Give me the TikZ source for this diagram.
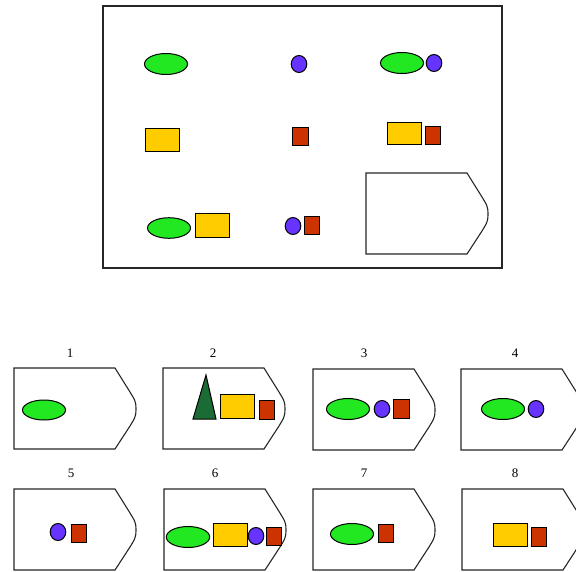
\documentclass[tikz,border=0pt]{standalone}
\usepackage{fontspec}
\setmainfont{Liberation Serif}
\definecolor{cgreen}{HTML}{22E822}
\definecolor{cpurple}{HTML}{6633FF}
\definecolor{cyellow}{HTML}{FFCC00}
\definecolor{cred}{HTML}{CC3300}
\definecolor{cdkgreen}{HTML}{1B6B35}
\tikzset{
  shp/.style={draw=black, line width=1pt},
  ell/.style={shp, fill=cgreen},
  circ/.style={shp, fill=cpurple},
  yrect/.style={shp, fill=cyellow},
  rrect/.style={shp, fill=cred},
  tri/.style={shp, fill=cdkgreen},
  frame/.style={draw=black!85, line width=1.5pt},
  tag/.style={font=\fontsize{13}{14}\selectfont, inner sep=0pt},
  housebox/.style={draw=black!85, line width=1.1pt, fill=white}
}
% left x, top y
\newcommand{\housepath}[2]{%
  \draw[housebox] (#1,#2) -- ++(101,0) -- ++(15,24)
    .. controls ++(4,7) and ++(0,-9) .. ++(6,17)
    .. controls ++(0,9) and ++(4,-7) .. ++(-6,17)
    -- ++(-15,23) -- ++(-101,0) -- cycle;}
\begin{document}
\begin{tikzpicture}[x=1pt,y=-1pt]
\useasboundingbox (0,0) rectangle (576,571);
\clip (0,0) rectangle (576,571);
% top frame
\draw[frame] (103,6) rectangle (502,268);
% row 1
\draw[ell] (166,64) ellipse [x radius=21.5pt, y radius=10.5pt];
\draw[circ] (299,64) ellipse [x radius=7.8pt, y radius=8.5pt];
\draw[ell] (402,63) ellipse [x radius=21.5pt, y radius=10.5pt];
\draw[circ] (434,63) ellipse [x radius=7.8pt, y radius=8.5pt];
% row 2
\draw[yrect] (145,128) rectangle (179,151);
\draw[rrect] (292,127) rectangle (308,145);
\draw[yrect] (387,122) rectangle (421,144);
\draw[rrect] (425,126) rectangle (440,144);
% row 3
\draw[ell] (169,228) ellipse [x radius=21.5pt, y radius=10.3pt];
\draw[yrect] (195,213) rectangle (229,237);
\draw[circ] (293,226) ellipse [x radius=7.8pt, y radius=8.5pt];
\draw[rrect] (304,216) rectangle (319,234);
\housepath{366}{173}
% answers row 1
\node[tag] (t1) at (70,353) {1};
\node[tag] (t2) at (213,353) {2};
\node[tag] (t3) at (364,353) {3};
\node[tag] (t4) at (515,353) {4};
\housepath{14}{368}
\housepath{163}{368}
\housepath{313}{369}
\housepath{461}{369}
\draw[ell] (44,410) ellipse [x radius=21.5pt, y radius=10pt];
% 2
\draw[tri] (206,375) -- (216,419) -- (193,419) -- cycle;
\draw[yrect] (220,394) rectangle (254,418);
\draw[rrect] (259,400) rectangle (274,419);
% 3
\draw[ell] (348,409) ellipse [x radius=21.5pt, y radius=10.5pt];
\draw[circ] (382,409) ellipse [x radius=7.8pt, y radius=8.5pt];
\draw[rrect] (393,399) rectangle (409,418);
% 4
\draw[ell] (503,409) ellipse [x radius=21.5pt, y radius=10.5pt];
\draw[circ] (536,409) ellipse [x radius=7.8pt, y radius=8.5pt];
% answers row 2
\node[tag] (t5) at (71,473) {5};
\node[tag] (t6) at (215,473) {6};
\node[tag] (t7) at (364,473) {7};
\node[tag] (t8) at (515,473) {8};
\housepath{14}{489}
\housepath{164}{489}
\housepath{313}{489}
\housepath{462}{489}
% 5
\draw[circ] (58,532) ellipse [x radius=7.8pt, y radius=8.5pt];
\draw[rrect] (71,524) rectangle (86,542);
% 6
\draw[ell] (188,537) ellipse [x radius=21.7pt, y radius=10.5pt];
\draw[yrect] (213,523) rectangle (247,546);
\draw[circ] (256,536) ellipse [x radius=7.8pt, y radius=8.5pt];
\draw[rrect] (266,527) rectangle (281,545);
% 7
\draw[ell] (352,534) ellipse [x radius=21.5pt, y radius=10.5pt];
\draw[rrect] (378,524) rectangle (393,542);
% 8
\draw[yrect] (493,523) rectangle (527,546);
\draw[rrect] (531,527) rectangle (546,546);
\end{tikzpicture}
\end{document}
